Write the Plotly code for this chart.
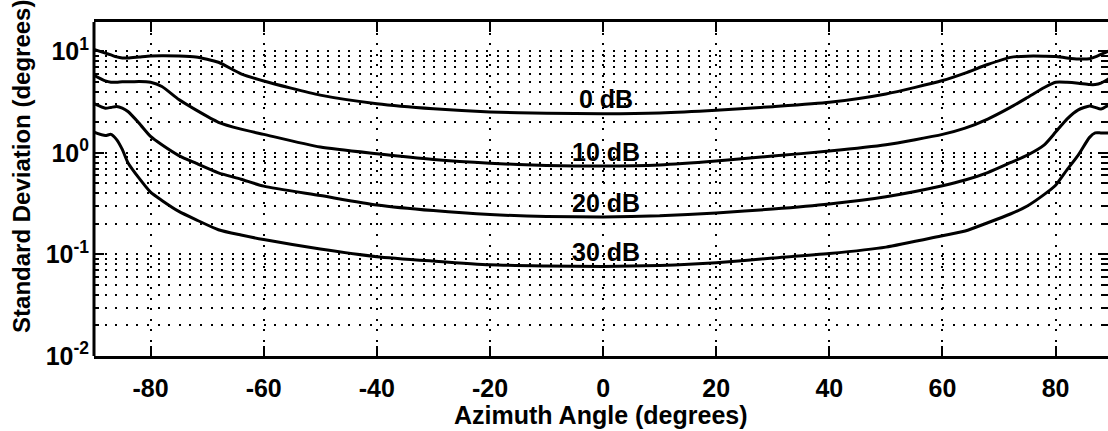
import numpy as np
import plotly.graph_objects as go

# Azimuth angles (degrees) at which the standard deviation is sampled
angles = [-90, -88, -87, -86, -85, -84, -82, -80, -78, -75, -72, -68, -64, -60,
          -50, -40, -30, -20, -10, 0, 10, 20, 30, 40, 50, 60, 64, 68, 72, 75,
          78, 80, 82, 84, 86, 87, 88, 90]

# Standard deviation (degrees) for each SNR
std_0db = [10.4, 9.6, 9.2, 8.8, 8.6, 8.6, 8.8, 9.0, 9.05, 9.0, 8.8, 7.8, 6.0, 5.1,
           3.7, 3.05, 2.72, 2.53, 2.45, 2.43, 2.47, 2.62, 2.85, 3.15, 3.8, 5.15, 6.1, 7.4, 8.7, 8.95,
           8.95, 8.9, 8.6, 8.4, 8.45, 8.8, 9.3, 10.4]
std_10db = [5.8, 5.1, 4.95, 4.95, 5.0, 5.0, 5.05, 4.95, 4.5, 3.35, 2.65, 2.0, 1.71, 1.52,
            1.14, 0.98, 0.86, 0.79, 0.75, 0.74, 0.76, 0.83, 0.93, 1.04, 1.2, 1.52, 1.75, 2.15, 2.8, 3.5,
            4.4, 4.95, 4.95, 4.85, 4.7, 4.7, 4.85, 5.6]
std_20db = [3.05, 2.75, 2.8, 2.86, 2.75, 2.55, 1.95, 1.45, 1.2, 0.94, 0.79, 0.635, 0.55, 0.47,
            0.38, 0.307, 0.27, 0.247, 0.236, 0.234, 0.24, 0.256, 0.28, 0.314, 0.37, 0.475, 0.54, 0.64, 0.8, 0.95,
            1.2, 1.6, 2.15, 2.65, 2.89, 2.8, 2.7, 3.1]
std_30db = [1.6, 1.48, 1.52, 1.35, 1.08, 0.8, 0.56, 0.41, 0.34, 0.265, 0.22, 0.175, 0.155, 0.14,
            0.113, 0.095, 0.086, 0.079, 0.077, 0.076, 0.078, 0.083, 0.092, 0.102, 0.118, 0.153, 0.17, 0.205, 0.25, 0.3,
            0.39, 0.48, 0.68, 0.95, 1.42, 1.57, 1.57, 1.57]

series = [("0 dB", std_0db), ("10 dB", std_10db), ("20 dB", std_20db), ("30 dB", std_30db)]

x_ticks = [-80, -60, -40, -20, 0, 20, 40, 60, 80]
y_ticks = [0.01, 0.1, 1, 10]
y_tick_text = ["10<sup>-2</sup>", "10<sup>-1</sup>", "10<sup>0</sup>", "10<sup>1</sup>"]

FAMILY = "Liberation Sans, Arial, Helvetica, sans-serif"
BIG = dict(family=FAMILY, size=25, color="black", weight="bold")
DOTS = "2px,8.6px"

fig = go.Figure()
for name, vals in series:
    fig.add_trace(go.Scatter(
        x=angles, y=vals, mode="lines", name=name,
        line=dict(color="black", width=3, shape="spline", smoothing=0.6),
        showlegend=False, hoverinfo="skip",
    ))

# curve labels just above each curve at broadside
for name, vals in series:
    centre = vals[angles.index(0)]
    fig.add_annotation(
        x=0.5, y=np.log10(centre) + 0.14, xref="x", yref="y",
        text=name, showarrow=False, font=BIG,
        xanchor="center", yanchor="middle",
    )

minor_vals = [k * 10.0 ** e for e in (-2, -1, 0, 1) for k in range(2, 10)]
minor_vals = [v for v in minor_vals if v < 19]

fig.update_xaxes(
    range=[-90, 89.26], tickvals=x_ticks, ticktext=[str(t) for t in x_ticks],
    ticks="inside", ticklen=10, tickwidth=2, tickcolor="black",
    showline=True, linewidth=3, linecolor="black", mirror="ticks",
    showgrid=True, gridcolor="black", gridwidth=2, griddash=DOTS,
    zeroline=False, ticklabelstandoff=8, tickfont=BIG,
)
fig.update_yaxes(
    type="log", range=[-2, 1.288], tickvals=y_ticks, ticktext=y_tick_text,
    ticks="inside", ticklen=10, tickwidth=2, tickcolor="black",
    showline=False, mirror="ticks",
    showgrid=True, gridcolor="black", gridwidth=2, griddash=DOTS,
    minor=dict(tickvals=minor_vals, ticks="inside", ticklen=5, tickwidth=2, tickcolor="black",
               showgrid=True, gridcolor="black", gridwidth=2, griddash=DOTS),
    zeroline=False, ticklabelstandoff=4, tickfont=BIG,
)

# left frame edge
fig.add_shape(type="line", xref="paper", yref="paper", x0=0, x1=0, y0=0, y1=1,
              line=dict(color="black", width=3))

fig.add_annotation(
    x=0.5, y=-0.177, xref="paper", yref="paper", text="Azimuth Angle (degrees)",
    showarrow=False, xanchor="center", yanchor="middle", font=BIG,
)
fig.add_annotation(
    x=-0.071, y=0.566, xref="paper", yref="paper", text="Standard Deviation (degrees)",
    showarrow=False, xanchor="center", yanchor="middle", textangle=-90,
    font=dict(family=FAMILY, size=24, color="black", weight="bold"),
)

fig.update_layout(
    width=1108, height=431, autosize=False,
    margin=dict(l=94, r=0, t=22, b=75),
    paper_bgcolor="white", plot_bgcolor="white",
)

fig.write_html("out.html")
